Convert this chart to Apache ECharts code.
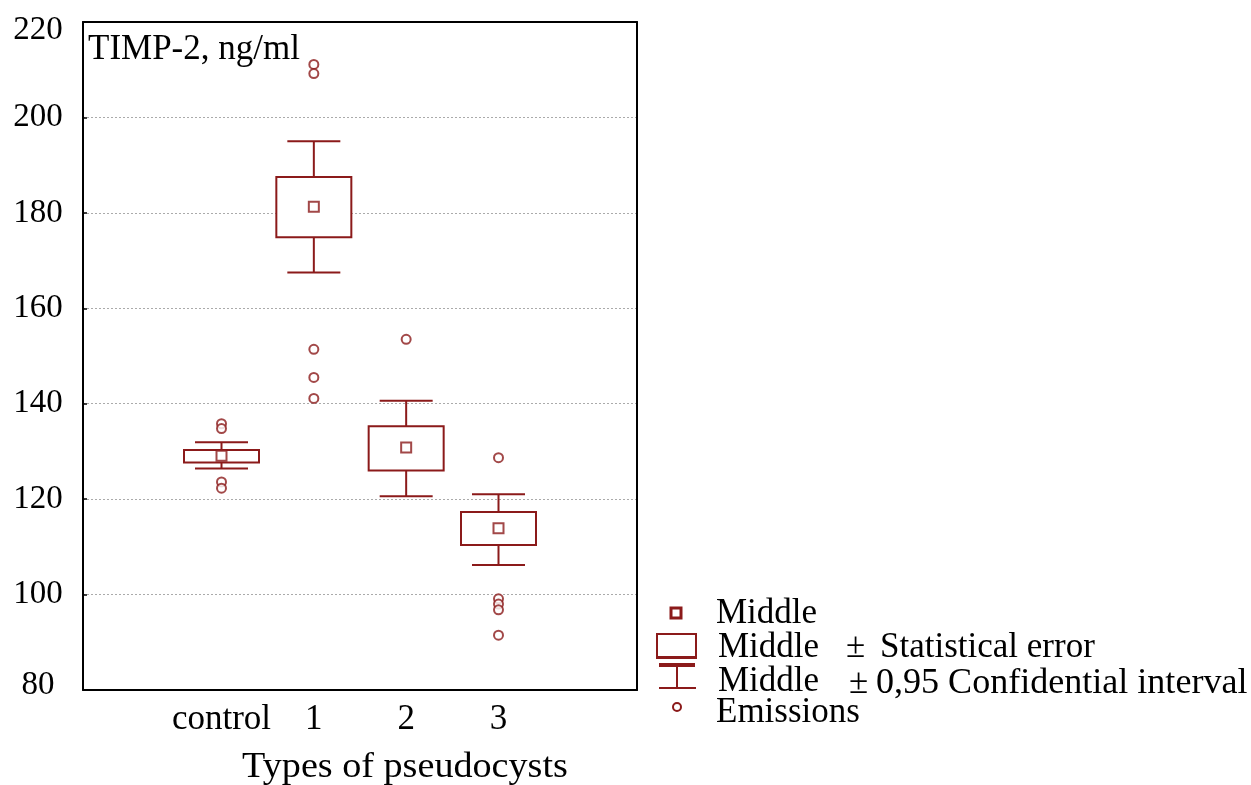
<!DOCTYPE html>
<html><head><meta charset="utf-8">
<script src="https://cdn.jsdelivr.net/npm/echarts@6/dist/echarts.min.js"></script>
<style>html,body{margin:0;padding:0;background:#fff}#c{width:1251px;height:785px}</style>
</head><body><div id="c"></div>
<script>
// ---- data ----
const categories = ['', 'control', '1', '2', '3', ''];
const groups = ['control', '1', '2', '3'];
const means  = [129.1, 181.3, 130.8, 113.9];
const seLow  = [127.7, 174.9, 126.0, 110.4];
const seHigh = [130.3, 187.5, 135.3, 117.3];
const ciLow  = [126.4, 167.5, 120.6, 106.2];
const ciHigh = [131.9, 195.0, 140.6, 121.0];
const outliersControl = [135.8, 134.8, 123.6, 122.3];
const outliers1 = [211.1, 209.2, 151.4, 145.5, 141.1];
const outliers2 = [153.5];
const outliers3 = [128.7, 99.1, 98.0, 96.8, 91.5];
const yMin = 80, yMax = 220, yStep = 20;
const yTitle = 'TIMP-2, ng/ml';
const xTitle = 'Types of pseudocysts';

// ---- build ----
const RED = '#8b1a1a';
const FONT = '"Liberation Serif", "Times New Roman", serif';
const boxData = groups.map((g, i) => [categories.indexOf(g), ciLow[i], seLow[i], seHigh[i], ciHigh[i]]);
const meanData = groups.map((g, i) => [categories.indexOf(g), means[i]]);
const outlierSets = [outliersControl, outliers1, outliers2, outliers3];
const outlierData = [];
outlierSets.forEach((arr, i) => arr.forEach(v => outlierData.push([categories.indexOf(groups[i]), v])));

const chart = echarts.init(document.getElementById('c'));
const option = {
  animation: false,
  backgroundColor: '#fff',
  grid: { left: 83, right: 614, top: 22, bottom: 95, show: false },
  xAxis: [{
    type: 'category', data: categories, position: 'bottom',
    axisLine: { lineStyle: { color: '#000', width: 2 } },
    axisTick: { inside: true, alignWithLabel: true, length: 5, lineStyle: { color: '#000', width: 1.5 } },
    axisLabel: { color: '#000', fontFamily: FONT, fontSize: 35, margin: 12, interval: 0 },
    splitLine: { show: false }
  }, {
    type: 'category', data: categories, position: 'top',
    axisLine: { lineStyle: { color: '#000', width: 2 } },
    axisTick: { inside: true, alignWithLabel: true, length: 5, lineStyle: { color: '#000', width: 1.5 } },
    axisLabel: { show: false }, splitLine: { show: false }
  }],
  yAxis: [{
    type: 'value', min: yMin, max: yMax, interval: yStep,
    axisLine: { show: true, lineStyle: { color: '#000', width: 2 } },
    axisTick: { show: true, inside: true, length: 4, lineStyle: { color: '#000', width: 1.5 } },
    axisLabel: {
      color: '#000', fontFamily: FONT, fontSize: 33, align: 'center', margin: 45,
      formatter: v => v === yMax ? '{t|' + v + '}' : (v === yMin ? '{b|' + v + '}' : String(v)),
      rich: {
        t: { fontFamily: FONT, fontSize: 33, color: '#000', padding: [16, 0, 0, 0] },
        b: { fontFamily: FONT, fontSize: 33, color: '#000', padding: [0, 0, 10, 0] }
      }
    },
    splitLine: { show: true, lineStyle: { color: '#aaa', type: [2, 2], width: 1 } }
  }, {
    type: 'value', min: yMin, max: yMax, interval: yStep, position: 'right',
    axisLine: { show: true, lineStyle: { color: '#000', width: 2 } },
    axisTick: { show: false }, axisLabel: { show: false }, splitLine: { show: false }
  }],
  series: [{
    type: 'custom', xAxisIndex: 0, yAxisIndex: 0, data: boxData, z: 2,
    encode: { x: 0, y: [1, 2, 3, 4] },
    renderItem: function (params, api) {
      const xi = api.value(0);
      const pCL = api.coord([xi, api.value(1)]);
      const pSL = api.coord([xi, api.value(2)]);
      const pSH = api.coord([xi, api.value(3)]);
      const pCH = api.coord([xi, api.value(4)]);
      const bw = 75, cw = 53, cx = pCL[0];
      const st = { stroke: RED, lineWidth: 2, fill: null };
      return {
        type: 'group', children: [
          { type: 'line', shape: { x1: cx, y1: pCL[1], x2: cx, y2: pSL[1] }, style: st },
          { type: 'line', shape: { x1: cx, y1: pSH[1], x2: cx, y2: pCH[1] }, style: st },
          { type: 'line', shape: { x1: cx - cw / 2, y1: pCL[1], x2: cx + cw / 2, y2: pCL[1] }, style: st },
          { type: 'line', shape: { x1: cx - cw / 2, y1: pCH[1], x2: cx + cw / 2, y2: pCH[1] }, style: st },
          { type: 'rect', shape: { x: cx - bw / 2, y: pSH[1], width: bw, height: pSL[1] - pSH[1] }, style: { stroke: RED, lineWidth: 2, fill: '#fff' } }
        ]
      };
    }
  }, {
    type: 'scatter', data: meanData, symbol: 'rect', symbolSize: 10, z: 4,
    itemStyle: { color: '#fff', borderColor: RED, borderWidth: 2 }
  }, {
    type: 'scatter', data: outlierData, symbol: 'circle', symbolSize: 9, z: 4,
    itemStyle: { color: '#fff', borderColor: RED, borderWidth: 2 }
  }],
  graphic: [
    { type: 'text', left: 88, top: 32, style: { text: yTitle, font: '35px ' + FONT, fill: '#000' } },
    { type: 'text', x: 405, y: 768, scaleX: 1.09, style: { text: xTitle, font: '35px ' + FONT, fill: '#000', align: 'center', verticalAlign: 'middle' } },
    // legend symbols
    { type: 'rect', shape: { x: 671, y: 608, width: 10, height: 10 }, style: { fill: '#fff', stroke: RED, lineWidth: 3 } },
    { type: 'rect', shape: { x: 657, y: 634, width: 39, height: 23 }, style: { fill: '#fff', stroke: RED, lineWidth: 2 } },
    { type: 'rect', shape: { x: 656, y: 656, width: 41, height: 3 }, style: { fill: RED } },
    { type: 'rect', shape: { x: 659, y: 663, width: 36, height: 4 }, style: { fill: RED } },
    { type: 'line', shape: { x1: 677, y1: 667, x2: 677, y2: 688 }, style: { stroke: RED, lineWidth: 2 } },
    { type: 'line', shape: { x1: 659, y1: 688, x2: 696, y2: 688 }, style: { stroke: RED, lineWidth: 2 } },
    { type: 'circle', shape: { cx: 677, cy: 707, r: 4 }, style: { fill: '#fff', stroke: RED, lineWidth: 2 } },
    // legend text
    { type: 'text', x: 716, y: 614, style: { text: 'Middle', font: '35px ' + FONT, fill: '#000', verticalAlign: 'middle' } },
    { type: 'text', x: 718, y: 648, style: { text: 'Middle', font: '35px ' + FONT, fill: '#000', verticalAlign: 'middle' } },
    { type: 'text', x: 846, y: 648, style: { text: '±', font: '35px ' + FONT, fill: '#000', verticalAlign: 'middle' } },
    { type: 'text', x: 880, y: 648, style: { text: 'Statistical error', font: '35px ' + FONT, fill: '#000', verticalAlign: 'middle' } },
    { type: 'text', x: 718, y: 682, style: { text: 'Middle', font: '35px ' + FONT, fill: '#000', verticalAlign: 'middle' } },
    { type: 'text', x: 849, y: 684, style: { text: '±', font: '35px ' + FONT, fill: '#000', verticalAlign: 'middle' } },
    { type: 'text', x: 876, y: 684, scaleX: 1.03, style: { text: '0,95 Confidential interval', font: '35px ' + FONT, fill: '#000', verticalAlign: 'middle' } },
    { type: 'text', x: 716, y: 713, style: { text: 'Emissions', font: '35px ' + FONT, fill: '#000', verticalAlign: 'middle' } }
  ]
};
chart.setOption(option);
</script>
</body></html>
